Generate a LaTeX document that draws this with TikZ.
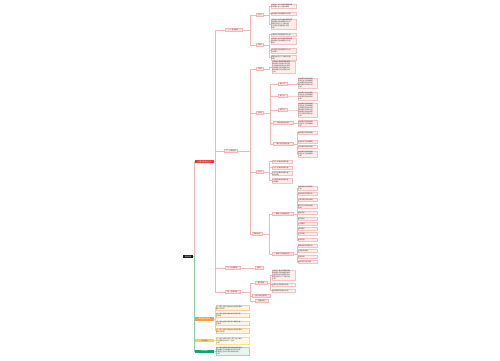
\documentclass[tikz,border=0pt]{standalone}
\usepackage{fontspec}
\newfontfamily\cjk{Noto Sans CJK SC}
\XeTeXlinebreaklocale "zh"
\usetikzlibrary{positioning}

\definecolor{linkpink}{HTML}{F4B6B6}
\definecolor{midpink}{HTML}{FCE1E1}
\definecolor{leafpink}{HTML}{FDEEEE}
\definecolor{leafline}{HTML}{F5C2C2}
\definecolor{topicred}{HTML}{E53935}
\definecolor{orangebox}{HTML}{F4A04A}
\definecolor{orangeleaf}{HTML}{FFF3E4}
\definecolor{orangeline}{HTML}{F7CD9A}
\definecolor{yellowbox}{HTML}{F6D13B}
\definecolor{yellowleaf}{HTML}{FFFBE3}
\definecolor{yellowline}{HTML}{F3E19A}
\definecolor{greenbox}{HTML}{16A374}
\definecolor{greenleaf}{HTML}{E6F6EF}
\definecolor{greenline}{HTML}{9ED8BF}
\definecolor{greenlink}{HTML}{8CCB9F}

\newcommand\tinyfont{\cjk\fontsize{1.6}{2}\selectfont}

\begin{document}
\begin{tikzpicture}[x=1pt,y=-1pt,
    every node/.style={font=\tinyfont, inner sep=0.4pt},
    rootbox/.style={fill=black!90, text=white, minimum width=10pt, minimum height=3.5pt},
    topicbox/.style={fill=topicred, text=white, minimum width=19pt, minimum height=3.5pt},
    midbox/.style={fill=midpink, draw=linkpink, line width=0.3pt, minimum height=3pt, text=black!70},
    leafbox/.style={fill=leafpink, draw=leafline, line width=0.3pt, align=left, minimum height=3pt, text=black!75},
    link/.style={draw=linkpink, line width=0.45pt},
    oleaf/.style={leafbox, fill=orangeleaf, draw=orangeline, text width=32.2pt},
    yleaf/.style={leafbox, fill=yellowleaf, draw=yellowline, text width=32.2pt},
    gleaf/.style={leafbox, fill=greenleaf, draw=greenline, text width=32.2pt},
]
    \useasboundingbox (0,0) rectangle (500,360);

    % Root and main topic
    \node[rootbox] (root) at (188,256.5) {思维导图};
    \node[topicbox] (topic) at (204.5,161.5) {主要内容概述分析};

    % Level two
    \node[midbox, minimum width=17pt] (A) at (233.5,30) {一、基本概念};
    \node[midbox, minimum width=13pt] (B) at (231,151) {二、主要内容};
    \node[midbox, minimum width=15pt] (C) at (232.5,268) {三、注意事项};
    \node[midbox, minimum width=15pt] (D) at (232.5,292) {四、总结归纳};

    % Level three
    \node[midbox, minimum width=7pt] (A1) at (260,15) {定义};
    \node[midbox, minimum width=7pt] (A2) at (260,45) {特点};
    \node[midbox, minimum width=7pt] (B1) at (260,69) {背景};
    \node[midbox, minimum width=7pt] (B2) at (260,113) {内容};
    \node[midbox, minimum width=7pt] (B3) at (260,172) {方法};
    \node[midbox, minimum width=10pt] (B4) at (257,234) {案例分析};
    \node[midbox, minimum width=8pt] (C1) at (259,268) {要求};
    \node[midbox, minimum width=12pt] (D1) at (261,283) {重点回顾};
    \node[midbox, minimum width=18pt] (D2) at (261,296) {常见问题与解答};
    \node[midbox, minimum width=13pt] (D3) at (261.5,301) {拓展阅读};

    % Level four
    \node[midbox, minimum width=9pt] (B2a) at (282.5,84) {第一点};
    \node[midbox, minimum width=9pt] (B2b) at (282.5,96) {第二点};
    \node[midbox, minimum width=9pt] (B2c) at (282.5,110) {第三点};
    \node[midbox, minimum width=20pt] (B2d) at (283,123) {第四点相关说明};
    \node[midbox, minimum width=20pt] (B2e) at (283,144) {第五点及其他内容};
    \node[midbox, minimum width=21pt] (B4a) at (282.5,214) {案例一的具体内容};
    \node[midbox, minimum width=21pt] (B4b) at (282.5,254) {案例二的具体内容};

    % Leaves of A
    \node[leafbox, text width=24.2pt] (A1x) at (283.5,6) {这是关于本节内容的简要说明\\及其基本含义与相关解释};
    \node[leafbox, text width=24.2pt] (A1y) at (283.5,13.5) {相关概念的具体解释与说明};
    \node[leafbox, text width=24.2pt] (A1z) at (283.5,24) {这是关于本节内容的简要说明\\相关概念的具体解释与分析\\需要注意的几个方面内容\\以及常见的理解误区说明\\总结};
    \node[leafbox, text width=24.2pt] (A2w) at (283.5,34.5) {主要特点的简要说明与分析};
    \node[leafbox, text width=24.2pt] (A2x) at (283.5,41) {这是关于本节内容的简要说明\\相关概念的具体解释与分析\\其他};
    \node[leafbox, text width=24.2pt] (A2y) at (283.5,50.5) {相关概念的具体解释与分析\\及其意义};
    \node[leafbox, text width=24.2pt] (A2z) at (283.5,57.5) {需要注意的几个方面的内容\\说明};

    % Leaves of B
    \node[leafbox, text width=22.2pt] (B1x) at (283.5,67) {这是关于背景的简要说明\\相关情况的具体介绍内容\\以及发展过程的分析说明\\主要原因与影响因素分析\\相关数据与资料说明介绍\\小结};
    \node[leafbox, text width=18.2pt] (B2ax) at (307.5,83) {相关要点的具体说明\\内容分析与具体解释\\注意事项的相关说明\\相关要求的具体介绍\\小结};
    \node[leafbox, text width=18.2pt] (B2bx) at (307.5,96) {相关要点的具体说明\\内容分析与具体解释\\注意事项的相关说明\\小结};
    \node[leafbox, text width=18.2pt] (B2cx) at (307.5,110) {相关要点的具体说明\\内容分析与具体解释\\注意事项的相关说明\\相关要求的具体介绍\\具体做法的相关说明\\常见问题的简要分析\\小结};
    \node[leafbox, text width=18.2pt] (B2dx) at (307.5,123.5) {相关要点的具体说明\\内容分析与具体解释\\小结};
    \node[leafbox, text width=18.2pt] (B2ew) at (307.5,132.5) {相关要点的具体说明};
    \node[leafbox, text width=18.2pt] (B2ex) at (307.5,141.5) {内容分析与具体解释};
    \node[leafbox, text width=18.2pt] (B2ey) at (307.5,147) {注意事项的相关说明};
    \node[leafbox, text width=18.2pt] (B2ez) at (307.5,154) {相关要点的具体说明\\内容分析与具体解释\\小结};
    \node[leafbox, text width=19.2pt] (B3w) at (282,161.5) {方法一的具体说明内容};
    \node[leafbox, text width=19.2pt] (B3x) at (282,167.5) {方法二的具体说明内容};
    \node[leafbox, text width=19.2pt] (B3y) at (282,173.5) {方法三的具体说明内容\\及其步骤};
    \node[leafbox, text width=19.2pt] (B3z) at (282,180.5) {方法四的具体说明内容\\及其要求};
    \node[leafbox, text width=18.2pt] (B4a1) at (307.5,188) {案例的相关背景说明\\介绍};
    \node[leafbox, text width=18.2pt] (B4a2) at (307.5,194) {案例过程的简要分析};
    \node[leafbox, text width=18.2pt] (B4a3) at (307.5,200) {主要问题的相关说明};
    \node[leafbox, text width=18.2pt] (B4a4) at (307.5,206.5) {解决方法的具体说明\\步骤};
    \node[leafbox, text width=18.2pt] (B4a5) at (307.5,213) {结果分析};
    \node[leafbox, text width=18.2pt] (B4a6) at (307.5,219) {经验总结};
    \node[leafbox, text width=18.2pt] (B4a7) at (307.5,224) {注意事项};
    \node[leafbox, text width=18.2pt] (B4a8) at (307.5,229) {相关要求};
    \node[leafbox, text width=18.2pt] (B4a9) at (307.5,234) {启示说明};
    \node[leafbox, text width=18.2pt] (B4a10) at (307.5,240) {其他内容};
    \node[leafbox, text width=18.2pt] (B4b1) at (307.5,246) {案例背景的简要介绍};
    \node[leafbox, text width=18.2pt] (B4b2) at (307.5,251) {主要过程说明};
    \node[leafbox, text width=18.2pt] (B4b3) at (307.5,257) {结果分析};
    \node[leafbox, text width=18.2pt] (B4b4) at (307.5,262) {经验与启示的说明};

    % Leaves of D
    \node[leafbox, text width=22.2pt] (D1x) at (283.5,275) {这是关于重点的简要回顾\\相关概念的具体解释说明\\主要内容的归纳整理分析\\需要注意的几个方面内容\\小结};
    \node[leafbox, text width=22.2pt] (D1y) at (283.5,284.5) {主要方法的回顾与总结};
    \node[leafbox, text width=22.2pt] (D1z) at (283.5,290.5) {相关案例的回顾与总结};

    % Lower branches
    \node[rootbox, fill=orangebox, minimum width=19pt, minimum height=4pt] (O) at (204.5,319) {相关资料与参考};
    \node[rootbox, fill=yellowbox, text=black!70, minimum width=19pt, minimum height=3pt] (Y) at (204.5,340.5) {学习建议};
    \node[rootbox, fill=greenbox, minimum width=19pt, minimum height=3pt] (G) at (204.5,351) {补充说明};
    \node[oleaf] (O1) at (232.5,307.5) {这一部分主要介绍相关内容及其具体\\要求与说明};
    \node[oleaf] (O2) at (232.5,315) {这一部分主要介绍相关资料的来源\\及用途};
    \node[oleaf] (O3) at (232.5,323) {这一部分主要介绍参考文献的内容\\与要求};
    \node[oleaf] (O4) at (232.5,330.5) {这一部分主要介绍相关内容及其具体\\要求与说明};
    \node[yleaf] (Y1) at (232.5,340.5) {这一部分主要介绍学习的方法与建议\\以及需要注意的几个方面\\小结};
    \node[gleaf] (G1) at (232.5,351) {这一部分主要补充说明相关内容及其\\具体要求与注意事项以及常见问题\\的解答与分析以及其他相关内容\\小结};

    % Connectors
    \draw[link] (root.east) -- ++(1,0) |- (topic.west);
    \foreach \c in {O,Y,G}
        \draw[draw=greenlink, line width=0.45pt] (root.east) -- ++(1,0) |- (\c.west);
    \foreach \c in {A,B,C,D}
        \draw[link] (topic.east) -- ++(1,0) |- (\c.west);
    \foreach \c in {A1,A2}
        \draw[link] (A.east) -- ++(8,0) |- (\c.west);
    \foreach \c in {A1x,A1y,A1z}
        \draw[link] (A1.east) -- ++(6,0) |- (\c.west);
    \foreach \c in {A2w,A2x,A2y,A2z}
        \draw[link] (A2.east) -- ++(6,0) |- (\c.west);
    \foreach \c in {B1,B2,B3,B4}
        \draw[link] (B.east) -- ++(12.5,0) |- (\c.west);
    \draw[link] (B1.east) -- ++(6,0) |- (B1x.west);
    \foreach \c in {B2a,B2b,B2c,B2d,B2e}
        \draw[link] (B2.east) -- ++(7,0) |- (\c.west);
    \draw[link] (B2a.east) -- ++(10,0) |- (B2ax.west);
    \draw[link] (B2b.east) -- ++(10,0) |- (B2bx.west);
    \draw[link] (B2c.east) -- ++(10,0) |- (B2cx.west);
    \draw[link] (B2d.east) -- ++(4,0) |- (B2dx.west);
    \foreach \c in {B2ew,B2ex,B2ey,B2ez}
        \draw[link] (B2e.east) -- ++(4,0) |- (\c.west);
    \foreach \c in {B3w,B3x,B3y,B3z}
        \draw[link] (B3.east) -- ++(6,0) |- (\c.west);
    \foreach \c in {B4a,B4b}
        \draw[link] (B4.east) -- ++(7,0) |- (\c.west);
    \foreach \c in {B4a1,B4a2,B4a3,B4a4,B4a5,B4a6,B4a7,B4a8,B4a9,B4a10}
        \draw[link] (B4a.east) -- ++(4,0) |- (\c.west);
    \foreach \c in {B4b1,B4b2,B4b3,B4b4}
        \draw[link] (B4b.east) -- ++(4,0) |- (\c.west);
    \draw[link] (C.east) -- (C1.west);
    \foreach \c in {D1,D2,D3}
        \draw[link] (D.east) -- ++(10,0) |- (\c.west);
    \foreach \c in {D1x,D1y,D1z}
        \draw[link] (D1.east) -- ++(3,0) |- (\c.west);
    \foreach \c in {O1,O2,O3,O4}
        \draw[draw=orangeline, line width=0.45pt] (O.east) -- ++(1,0) |- (\c.west);
    \draw[draw=yellowline, line width=0.45pt] (Y.east) -- (Y1.west);
    \draw[draw=greenline, line width=0.45pt] (G.east) -- (G1.west);
\end{tikzpicture}
\end{document}
